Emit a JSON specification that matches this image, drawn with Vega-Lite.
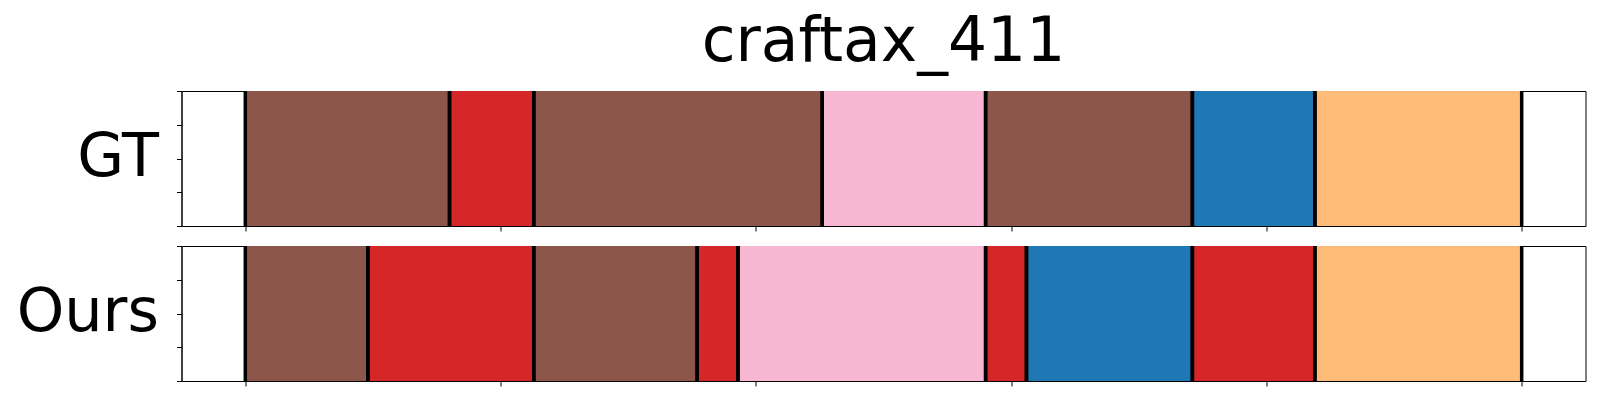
{
  "$schema": "https://vega.github.io/schema/vega-lite/v6.json",
  "autosize": {"type": "pad"},
  "padding": {"left": 15.5, "top": 11, "right": 0, "bottom": 0},
  "bounds": "flush",
  "spacing": 20,
  "title": {"text": "craftax_411", "font": "DejaVu Sans", "fontSize": 61.5, "fontWeight": "normal", "color": "black", "anchor": "middle", "frame": "group", "baseline": "alphabetic", "offset": -33.6},
  "datasets": {
    "gt": [
      {"start": 0, "end": 80, "cls": "brown"},
      {"start": 80, "end": 113, "cls": "red"},
      {"start": 113, "end": 226, "cls": "brown"},
      {"start": 226, "end": 290, "cls": "pink"},
      {"start": 290, "end": 371, "cls": "brown"},
      {"start": 371, "end": 419, "cls": "blue"},
      {"start": 419, "end": 500, "cls": "orange"}
    ],
    "ours": [
      {"start": 0, "end": 48, "cls": "brown"},
      {"start": 48, "end": 113, "cls": "red"},
      {"start": 113, "end": 177, "cls": "brown"},
      {"start": 177, "end": 193, "cls": "red"},
      {"start": 193, "end": 290, "cls": "pink"},
      {"start": 290, "end": 306, "cls": "red"},
      {"start": 306, "end": 371, "cls": "blue"},
      {"start": 371, "end": 419, "cls": "red"},
      {"start": 419, "end": 500, "cls": "orange"}
    ]
  },
  "vconcat": [
    {
      "width": 1404, "height": 135,
      "data": {"name": "gt"},
      "layer": [
        {
          "mark": {"type": "rect"},
          "encoding": {
            "x": {"field": "start", "type": "quantitative", "scale": {"domain": [-25, 525], "nice": false, "zero": false}, "axis": {"values": [0, 100, 200, 300, 400, 500], "labels": false, "title": null}},
            "x2": {"field": "end"},
            "y": {"datum": 0, "type": "quantitative", "scale": {"domain": [0, 1], "nice": false}, "axis": {"values": [0, 0.25, 0.5, 0.75, 1], "labels": false, "title": "GT", "titleAngle": 0, "titleAlign": "right", "titleBaseline": "alphabetic", "titleX": -23, "titleY": 84, "titleFontSize": 60.5}},
            "y2": {"datum": 1},
            "color": {"field": "cls", "type": "nominal", "scale": {"domain": ["brown", "red", "pink", "blue", "orange"], "range": ["#8c564b", "#d62728", "#f7b6d2", "#1f77b4", "#ffbb78"]}, "legend": null}
          }
        },
        {
          "mark": {"type": "rule", "color": "black", "strokeWidth": 3.5},
          "encoding": {"x": {"field": "start", "type": "quantitative"}}
        },
        {
          "mark": {"type": "rule", "color": "black", "strokeWidth": 3.5},
          "encoding": {"x": {"field": "end", "type": "quantitative"}}
        }
      ]
    },
    {
      "width": 1404, "height": 135,
      "data": {"name": "ours"},
      "layer": [
        {
          "mark": {"type": "rect"},
          "encoding": {
            "x": {"field": "start", "type": "quantitative", "scale": {"domain": [-25, 525], "nice": false, "zero": false}, "axis": {"values": [0, 100, 200, 300, 400, 500], "labels": false, "title": null}},
            "x2": {"field": "end"},
            "y": {"datum": 0, "type": "quantitative", "scale": {"domain": [0, 1], "nice": false}, "axis": {"values": [0, 0.25, 0.5, 0.75, 1], "labels": false, "title": "Ours", "titleAngle": 0, "titleAlign": "right", "titleBaseline": "alphabetic", "titleX": -23, "titleY": 84, "titleFontSize": 60.5}},
            "y2": {"datum": 1},
            "color": {"field": "cls", "type": "nominal", "scale": {"domain": ["brown", "red", "pink", "blue", "orange"], "range": ["#8c564b", "#d62728", "#f7b6d2", "#1f77b4", "#ffbb78"]}, "legend": null}
          }
        },
        {
          "mark": {"type": "rule", "color": "black", "strokeWidth": 3.5},
          "encoding": {"x": {"field": "start", "type": "quantitative"}}
        },
        {
          "mark": {"type": "rule", "color": "black", "strokeWidth": 3.5},
          "encoding": {"x": {"field": "end", "type": "quantitative"}}
        }
      ]
    }
  ],
  "config": {
    "view": {"stroke": "black", "strokeWidth": 1},
    "font": "DejaVu Sans",
    "axis": {"grid": false, "domainColor": "black", "domainWidth": 1, "tickColor": "black", "tickWidth": 1, "tickSize": 5, "titleFont": "DejaVu Sans", "titleFontWeight": "normal", "titleColor": "black"}
  }
}
